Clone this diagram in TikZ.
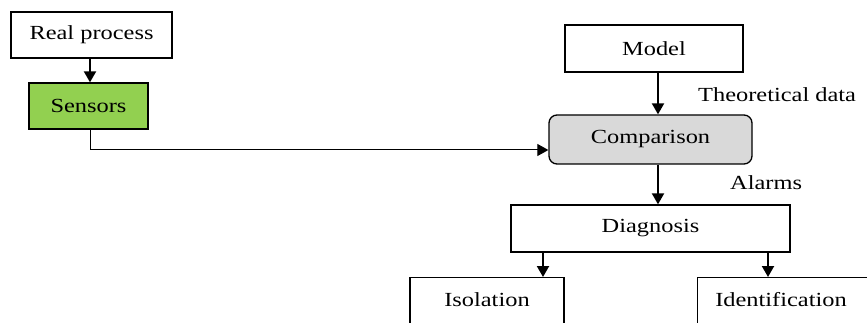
\documentclass[tikz,border=0pt]{standalone}
\usepackage{fontspec}
\setmainfont{Liberation Serif}[FakeStretch=1.22]
\usetikzlibrary{arrows.meta}
\definecolor{sensgreen}{HTML}{92D050}
\definecolor{compgray}{HTML}{D9D9D9}
\begin{document}
\begin{tikzpicture}[x=1pt,y=-1pt,
  box/.style={draw=black,line width=1.3pt,inner sep=0pt,font=\fontsize{20}{23}\selectfont},
  arr/.style={line width=2pt,-{Triangle[length=11pt,width=12pt]}},
  thinarr/.style={line width=1pt,-{Triangle[length=11pt,width=12pt]}},
  lbl/.style={font=\fontsize{20}{23}\selectfont,inner sep=0pt}]
\useasboundingbox (0,0) rectangle (867,323);
\clip (0,0) rectangle (867,323);
\node[box,fill=white,minimum width=161pt,minimum height=46pt] (real) at (91.5,35) {Real process};
\node[box,fill=sensgreen,minimum width=119pt,minimum height=46pt] (sens) at (88.5,106) {Sensors};
\node[box,fill=white,minimum width=178pt,minimum height=47pt] (model) at (654,48.5) {Model};
\node[box,fill=compgray,rounded corners=8pt,minimum width=203pt,minimum height=49pt] (comp) at (650.5,139.5) {Comparison};
\node[box,fill=white,minimum width=279pt,minimum height=47pt] (diag) at (650.5,228.5) {Diagnosis};
\node[box,fill=white,minimum width=154pt,minimum height=60pt,anchor=north] (iso) at (487,277) {};
\node[lbl] (isot) at (487,300) {Isolation};
\node[box,fill=white,minimum width=200pt,minimum height=60pt,anchor=north west] (ident) at (697,277) {};
\node[lbl] (identt) at (781,300) {Identification};
\node[lbl,anchor=west] (theo) at (698,95) {Theoretical data};
\node[lbl,anchor=west] (alarm) at (730,183) {Alarms};
\coordinate (turn) at (90,150);
\draw[arr] (real.south -| 90,0) -- (sens.north -| 90,0);
\draw[thinarr] (sens.south -| turn) -- (turn) -- (comp.west |- turn);
\draw[arr] (model.south -| 658,0) -- (comp.north -| 658,0);
\draw[arr] (comp.south -| 658,0) -- (diag.north -| 658,0);
\draw[arr] (diag.south -| 543,0) -- (iso.north -| 543,0);
\draw[arr] (diag.south -| 768,0) -- (ident.north -| 768,0);
\end{tikzpicture}
\end{document}
